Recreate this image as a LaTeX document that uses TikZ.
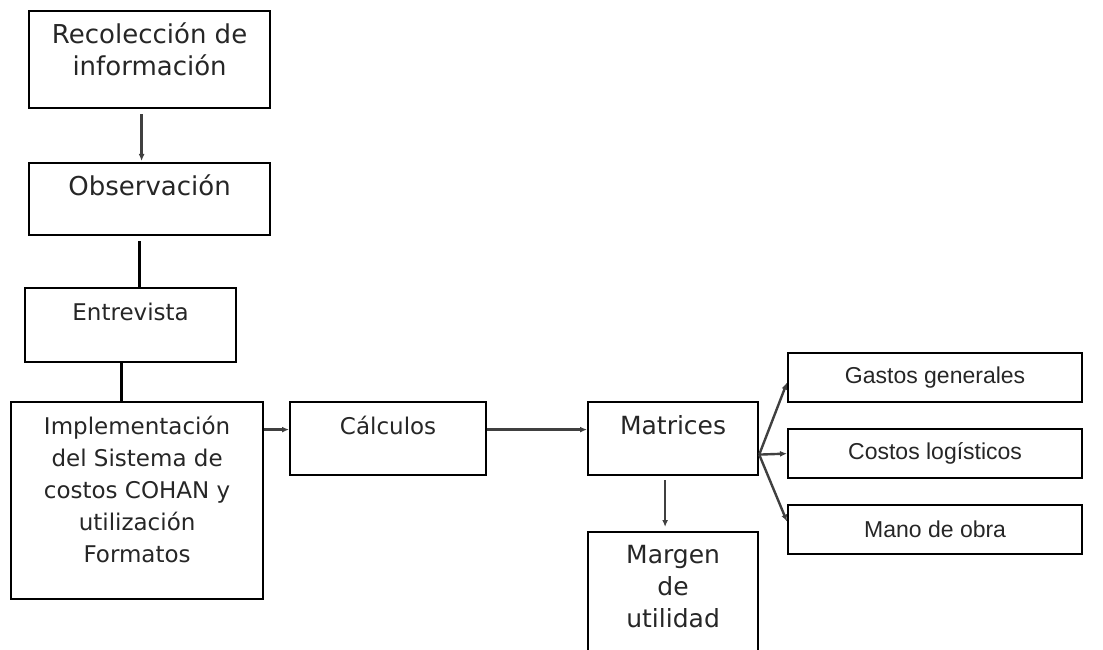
\documentclass[tikz,border=0pt]{standalone}
\usepackage{fontspec}
\setmainfont{DejaVu Sans}
\newfontfamily\arialfont{Liberation Sans}
\usetikzlibrary{arrows.meta,positioning}

\begin{document}
\begin{tikzpicture}[
x=1pt,y=-1pt,
box/.style={draw,line width=2.2pt,inner sep=0pt,anchor=north west},
txt/.style={inner sep=0pt,align=center,anchor=north,text=black!85},
side/.style={box,font=\arialfont\fontsize{23}{28}\selectfont,text=black!85},
arr/.style={-{Latex[length=7pt,width=6pt]},line width=2.4pt,black!75},
link/.style={line width=3pt}
]
\useasboundingbox (0,0) rectangle (1103,650);
% left column
\node[box,minimum width=241pt,minimum height=97pt] (rec) at (28,10) {};
\node[box,minimum width=241pt,minimum height=72pt] (obs) at (28,162) {};
\node[box,minimum width=211pt,minimum height=74pt] (ent) at (24,287) {};
\node[box,minimum width=252pt,minimum height=197pt] (impl) at (10,401) {};
\node[txt,font=\fontsize{26}{32}\selectfont,below=13pt of rec.north] (rec-t) {Recolección de\\información};
\node[txt,font=\fontsize{26}{32}\selectfont,below=13pt of obs.north] (obs-t) {Observación};
\node[txt,font=\fontsize{23}{32}\selectfont,below=16pt of ent.north] (ent-t) {Entrevista};
\node[txt,font=\fontsize{23}{32}\selectfont,below=15pt of impl.north] (impl-t) {Implementación\\del Sistema de\\costos COHAN y\\utilización\\Formatos};
% middle row
\node[box,minimum width=196pt,minimum height=73pt] (calc) at (289,401) {};
\node[box,minimum width=170pt,minimum height=73pt] (mat) at (587,401) {};
\node[box,minimum width=170pt,minimum height=140pt] (marg) at (587,531) {};
\node[txt,font=\fontsize{23}{32}\selectfont,below=15pt of calc.north] (calc-t) {Cálculos};
\node[txt,font=\fontsize{25}{32}\selectfont,below=14pt of mat.north] (mat-t) {Matrices};
\node[txt,font=\fontsize{25}{32}\selectfont,below=14pt of marg.north] (marg-t) {Margen\\de\\utilidad};
% right column
\node[side,minimum width=294pt,minimum height=49pt] (gas) at (787,352) {Gastos generales};
\node[side,minimum width=294pt,minimum height=49pt] (cos) at (787,428) {Costos logísticos};
\node[side,minimum width=294pt,minimum height=49pt] (man) at (787,504) {Mano de obra};
\coordinate (fan) at ([yshift=-16pt]mat.east);
% connectors
\draw[arr,shorten <=5pt,shorten >=1pt] ([xshift=-8pt]rec.south) -- ([xshift=-8pt]obs.north);
\draw[link,shorten <=5pt] ([xshift=-10pt]obs.south) -- ([xshift=-10pt]obs.south |- ent.north);
\draw[link] ([xshift=-9pt]ent.south) -- ([xshift=-9pt]ent.south |- impl.north);
\draw[arr] ([yshift=9pt]impl.east |- calc.west) -- ([yshift=9pt]calc.west);
\draw[arr] ([yshift=9pt]calc.east) -- ([yshift=9pt]mat.west);
\draw[arr,shorten <=4pt,shorten >=4pt] ([xshift=-8pt]mat.south) -- ([xshift=-8pt]marg.north);
\draw[arr] (fan) -- ([yshift=-5pt]gas.west);
\draw[arr] (fan) -- (cos.west);
\draw[arr] (fan) -- ([yshift=8pt]man.west);
\end{tikzpicture}
\end{document}
